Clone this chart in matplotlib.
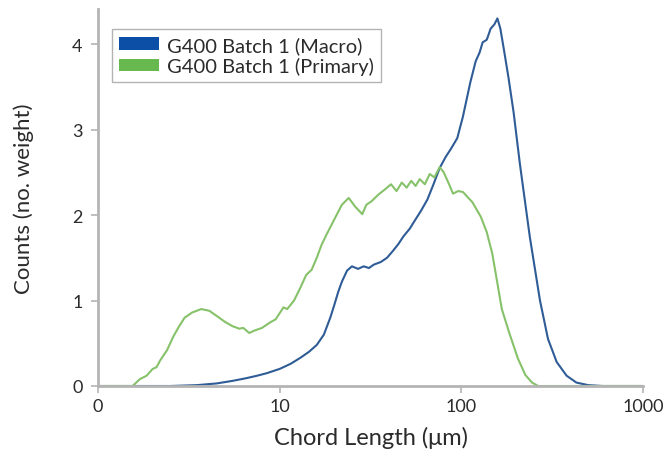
import matplotlib
matplotlib.use("Agg")
import matplotlib.pyplot as plt
from matplotlib.patches import Patch

# Chord length distribution
macro_x = [1.0, 2.5, 3.5, 4.5, 5.5, 6.5, 7.5, 8.5, 10, 11.5, 13, 14.5, 16, 17.5, 19, 20, 21, 22,
           23.5, 25, 27, 29, 31, 33, 36, 39, 42, 45, 48, 52, 56, 60, 65, 70, 76, 82, 88, 95,
           102, 112, 120, 126, 131, 138, 145, 152, 158, 164, 172, 182, 194, 210, 238, 271, 300,
           335, 380, 430, 500, 600, 1000]
macro_y = [0, 0, 0.01, 0.03, 0.06, 0.09, 0.12, 0.15, 0.2, 0.26, 0.33, 0.4, 0.48, 0.6, 0.8, 0.95,
           1.1, 1.22, 1.35, 1.4, 1.37, 1.4, 1.38, 1.42, 1.45, 1.5, 1.58, 1.66, 1.75, 1.84, 1.95,
           2.05, 2.18, 2.35, 2.55, 2.68, 2.78, 2.9, 3.15, 3.55, 3.8, 3.9, 4.02, 4.05, 4.18, 4.23,
           4.3, 4.18, 3.92, 3.6, 3.2, 2.6, 1.75, 1.0, 0.55, 0.28, 0.12, 0.04, 0.01, 0, 0]

primary_x = [1.0, 1.3, 1.55, 1.7, 1.85, 2.0, 2.1, 2.2, 2.4, 2.6, 2.8, 3.0, 3.3, 3.7, 4.1, 4.5,
             5.0, 5.5, 6.0, 6.3, 6.8, 7.3, 8.0, 8.8, 9.5, 10.5, 11, 12, 13, 14, 15, 16, 17, 18,
             20, 22, 24, 26, 28.5, 30, 32, 35, 38, 41, 44, 47, 50, 53, 56, 59, 63, 67, 71, 76,
             80, 86, 90, 96, 102, 115, 128, 138, 148, 158, 167, 185, 205, 225, 245, 265, 1000]
primary_y = [0, 0, 0, 0.08, 0.12, 0.2, 0.22, 0.3, 0.42, 0.58, 0.7, 0.8, 0.86, 0.9, 0.88, 0.82,
             0.75, 0.7, 0.67, 0.68, 0.62, 0.65, 0.68, 0.74, 0.78, 0.92, 0.9, 1.0, 1.15, 1.3,
             1.36, 1.5, 1.65, 1.76, 1.95, 2.12, 2.2, 2.1, 2.01, 2.12, 2.16, 2.24, 2.3, 2.36, 2.28,
             2.38, 2.32, 2.4, 2.34, 2.42, 2.36, 2.48, 2.44, 2.56, 2.5, 2.35, 2.25, 2.28, 2.27,
             2.15, 1.98, 1.8, 1.55, 1.2, 0.9, 0.6, 0.32, 0.13, 0.04, 0, 0]

series_labels = ["G400 Batch 1 (Macro)", "G400 Batch 1 (Primary)"]
x_ticks = [1, 10, 100, 1000]
x_tick_labels = ["0", "10", "100", "1000"]
y_ticks = [0, 1, 2, 3, 4]

BLUE_LINE = "#2f5c96"
BLUE_KEY = "#0b4fa6"
GREEN_LINE = "#86c26a"
GREEN_KEY = "#66b84f"
AXIS_GREY = "#b4b4b4"
TEXT = "#2b2b2b"

plt.rcParams["font.family"] = ["Lato", "DejaVu Sans"]

fig = plt.figure(figsize=(6.68, 4.52), dpi=100)
ax = fig.add_axes([98 / 668, 65 / 452, 545 / 668, 377 / 452])

ax.plot(macro_x, macro_y, color=BLUE_LINE, linewidth=1.5)
ax.plot(primary_x, primary_y, color=GREEN_LINE, linewidth=1.5)

ax.set_xscale("log")
ax.set_xlim(1, 1000)
ax.set_ylim(0, 4.41)
ax.set_xticks(x_ticks)
ax.set_xticklabels(x_tick_labels)
ax.xaxis.set_minor_locator(matplotlib.ticker.NullLocator())
ax.set_yticks(y_ticks)

for side in ["top", "right"]:
    ax.spines[side].set_visible(False)
for side in ["left", "bottom"]:
    ax.spines[side].set_color(AXIS_GREY)
    ax.spines[side].set_linewidth(2)

ax.tick_params(axis="both", colors=AXIS_GREY, length=5, width=1.2, labelsize=13,
               labelcolor=TEXT, pad=4)
ax.tick_params(axis="y", pad=6)

ax.set_xlabel("Chord Length (μm)", fontsize=17, color=TEXT, va="center")
ax.xaxis.set_label_coords(0.5, (387 - 438) / 377)
ax.set_ylabel("Counts (no. weight)", fontsize=16, color=TEXT, va="center")
ax.yaxis.set_label_coords(-(98 - 24) / 545, 0.5)

handles = [Patch(facecolor=BLUE_KEY, edgecolor="none"),
           Patch(facecolor=GREEN_KEY, edgecolor="none")]
leg = ax.legend(handles, series_labels, loc="upper left",
                bbox_to_anchor=((112 - 98) / 545, (387 - 30) / 377),
                fontsize=14.5, frameon=True, fancybox=False, handlelength=2.0,
                handleheight=0.6, handletextpad=0.4, borderpad=0.35, labelspacing=0.15,
                borderaxespad=0)
leg.get_frame().set_edgecolor("#a0a0a0")
leg.get_frame().set_linewidth(1.0)
for t in leg.get_texts():
    t.set_color(TEXT)

fig.savefig("out.png", dpi=100)
